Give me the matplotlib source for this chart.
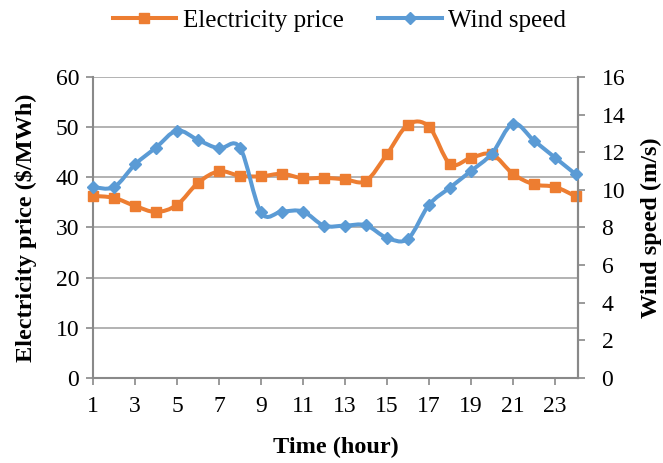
import numpy as np
import matplotlib
matplotlib.use('Agg')
import matplotlib.pyplot as plt
from matplotlib.path import Path
from matplotlib.patches import PathPatch
from matplotlib.lines import Line2D

plt.rcParams['font.family'] = ['Liberation Serif', 'DejaVu Serif']

hours = np.arange(1, 25)
price = [36.3, 35.9, 34.3, 33.1, 34.5, 38.9, 41.2, 40.3, 40.2, 40.7, 39.8, 39.9,
         39.6, 39.3, 44.6, 50.5, 50.1, 42.7, 43.9, 44.6, 40.7, 38.6, 38.1, 36.2]
wind = [10.15, 10.15, 11.35, 12.25, 13.15, 12.65, 12.2, 12.25, 8.8, 8.85, 8.85, 8.1,
        8.1, 8.12, 7.45, 7.4, 9.2, 10.12, 11.0, 11.93, 13.52, 12.62, 11.72, 10.82]

orange = '#ED7D31'
blue = '#5B9BD5'
axis_grey = '#898989'


def smooth_path(x, y):
    # cubic bezier through all points, tangents from neighbours (catmull-rom style)
    x = np.asarray(x, float)
    y = np.asarray(y, float)
    verts = [(x[0], y[0])]
    codes = [Path.MOVETO]
    n = len(x)
    for i in range(n - 1):
        i0 = max(i - 1, 0)
        i3 = min(i + 2, n - 1)
        c1 = (x[i] + (x[i + 1] - x[i0]) / 6, y[i] + (y[i + 1] - y[i0]) / 6)
        c2 = (x[i + 1] - (x[i3] - x[i]) / 6, y[i + 1] - (y[i3] - y[i]) / 6)
        verts += [c1, c2, (x[i + 1], y[i + 1])]
        codes += [Path.CURVE4] * 3
    return Path(verts, codes)


fig = plt.figure(figsize=(6.63, 4.63), dpi=100)
ax = fig.add_axes([0.1403, 0.1836, 0.7315, 0.6501])
ax2 = ax.twinx()

ax.add_patch(PathPatch(smooth_path(hours, price), fill=False, edgecolor=orange,
                       lw=2.9, capstyle='round', joinstyle='round', clip_on=False, zorder=3))
ax.plot(hours, price, ls='none', marker='s', ms=7.5, color=orange, clip_on=False, zorder=4)

ax2.add_patch(PathPatch(smooth_path(hours, wind), fill=False, edgecolor=blue,
                        lw=2.9, capstyle='round', joinstyle='round', clip_on=False, zorder=3))
ax2.plot(hours, wind, ls='none', marker='D', ms=6.3, color=blue, clip_on=False, zorder=4)

ax.set_xlim(1, 24.1)
ax.set_ylim(0, 60)
ax2.set_ylim(0, 16)
ax.set_xticks(np.arange(1, 24, 2))
ax.set_yticks(np.arange(0, 61, 10))
ax2.set_yticks(np.arange(0, 17, 2))

ax.yaxis.grid(True, color='#A6A6A6', lw=1.2)
ax.set_axisbelow(True)

for a in (ax, ax2):
    a.spines['top'].set_visible(False)
    for s in ('left', 'right', 'bottom'):
        a.spines[s].set_color(axis_grey)
        a.spines[s].set_linewidth(1.5)
    a.tick_params(labelsize=17, color=axis_grey, width=1.2, length=5, direction='out')
ax.tick_params(axis='x', pad=8)
ax.tick_params(axis='y', pad=5)
ax2.tick_params(axis='y', pad=12)
ax2.spines['left'].set_visible(False)
ax2.spines['bottom'].set_visible(False)

ax.set_xlabel('Time (hour)', fontsize=17.5, fontweight='bold', labelpad=14)
ax.set_ylabel('Electricity price ($/MWh)', fontsize=17.5, fontweight='bold', labelpad=13)
ax2.set_ylabel('Wind speed (m/s)', fontsize=17.5, fontweight='bold', labelpad=11)

handles = [Line2D([], [], color=orange, lw=2.9, marker='s', ms=7.5),
           Line2D([], [], color=blue, lw=2.9, marker='D', ms=6)]
fig.legend(handles, ['Electricity price', 'Wind speed'], loc='center',
           bbox_to_anchor=(0.512, 0.955), ncol=2, frameon=False, fontsize=18,
           handlelength=2.55, columnspacing=1.4, handletextpad=0.25)

fig.savefig('out.png', dpi=100)
